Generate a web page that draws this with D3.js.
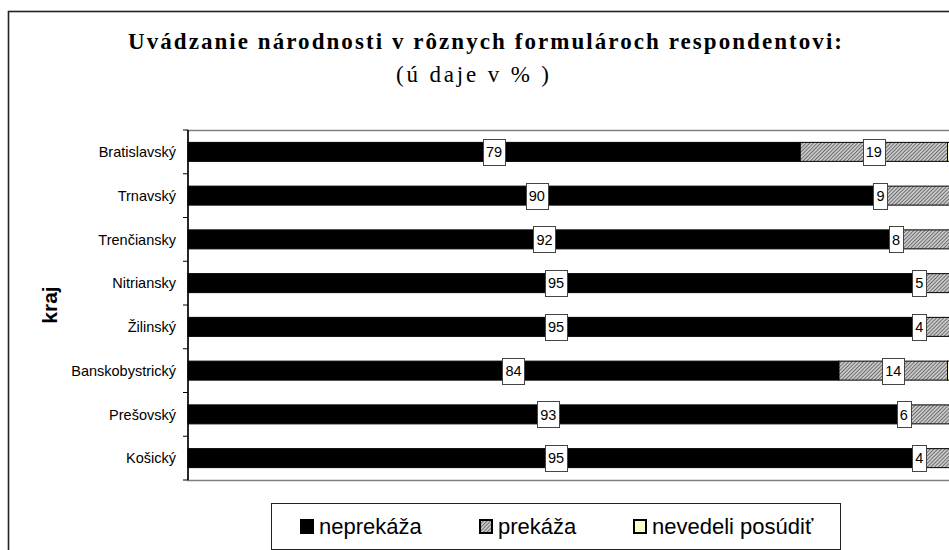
<!DOCTYPE html>
<html>
<head>
<meta charset="utf-8">
<script src="https://cdn.jsdelivr.net/npm/d3@7/dist/d3.min.js"></script>
<style>
  html, body { margin: 0; padding: 0; background: #fff; }
  svg { display: block; }
</style>
</head>
<body>
<svg id="chart" width="949" height="550"></svg>
<script>
// Regions (kraje) and the three answer groups, in percent
const categories = ["Bratislavský", "Trnavský", "Trenčiansky", "Nitriansky", "Žilinský", "Banskobystrický", "Prešovský", "Košický"];
const neprekaza = [79, 90, 92, 95, 95, 84, 93, 95];
const prekaza = [19, 9, 8, 5, 4, 14, 6, 4];
const nevedeli = [2, 1, 0, 0, 1, 2, 1, 1];
const seriesNames = ["neprekáža", "prekáža", "nevedeli posúdiť"];
const labelledSeries = ["neprekáža", "prekáža"];

const titleText = "Uvádzanie národnosti v rôznych formulároch respondentovi:";
const subtitleText = "(ú daje v % )";
const axisTitle = "kraj";

const rows = categories.map((c, i) => ({
  kraj: c,
  "neprekáža": neprekaza[i],
  "prekáža": prekaza[i],
  "nevedeli posúdiť": nevedeli[i]
}));

const svg = d3.select("#chart");
const sans = "'Liberation Sans', Arial, sans-serif";
const serif = "'Liberation Serif', 'Times New Roman', serif";

// fine hatch pattern for the "prekáža" series
const defs = svg.append("defs");
const pat = defs.append("pattern")
  .attr("id", "hatch")
  .attr("patternUnits", "userSpaceOnUse")
  .attr("width", 2.6).attr("height", 2.6)
  .attr("patternTransform", "rotate(45)");
pat.append("rect").attr("width", 2.6).attr("height", 2.6).attr("fill", "#c8c8c8");
pat.append("line").attr("x1", 0).attr("y1", 0).attr("x2", 0).attr("y2", 2.6)
  .attr("stroke", "#303030").attr("stroke-width", 1.1);

const fills = {
  "neprekáža": "#000000",
  "prekáža": "url(#hatch)",
  "nevedeli posúdiť": "#ffffcc"
};

// outer chart frame
svg.append("rect")
  .attr("x", 8.5).attr("y", 11.5)
  .attr("width", 980).attr("height", 580)
  .attr("fill", "none").attr("stroke", "#222").attr("stroke-width", 1.6);

// title
svg.append("text")
  .attr("x", 128).attr("y", 49)
  .attr("textLength", 714).attr("lengthAdjust", "spacing")
  .style("font-family", serif).style("font-weight", "bold").style("font-size", "23px")
  .attr("fill", "#000")
  .text(titleText);
svg.append("text")
  .attr("x", 396).attr("y", 82)
  .attr("textLength", 153).attr("lengthAdjust", "spacing")
  .style("font-family", serif).style("font-size", "23px")
  .attr("fill", "#000")
  .text(subtitleText);

// scales
const plotTop = 130, plotBottom = 480, plotLeft = 188, plotRight = 963;
const x = d3.scaleLinear().domain([0, 100]).range([plotLeft, plotRight]);
const p = 0.566;
const y = d3.scaleBand().domain(categories).range([plotTop, plotBottom])
  .paddingInner(p).paddingOuter(p / 2);

// plot area frame
svg.append("rect")
  .attr("x", plotLeft).attr("y", plotTop + 0.5)
  .attr("width", plotRight - plotLeft).attr("height", plotBottom - plotTop)
  .attr("fill", "#fff").attr("stroke", "#808080").attr("stroke-width", 1.5);

// stacked bars
const stack = d3.stack().keys(seriesNames);
const layers = stack(rows);

const g = svg.append("g");
layers.forEach(layer => {
  g.append("g").selectAll("rect")
    .data(layer)
    .join("rect")
    .attr("x", d => x(d[0]))
    .attr("y", d => y(d.data.kraj))
    .attr("width", d => x(d[1]) - x(d[0]))
    .attr("height", y.bandwidth())
    .attr("fill", fills[layer.key])
    .attr("stroke", d => (d[1] - d[0]) > 0 ? "#000" : "none")
    .attr("stroke-width", 1);
});

// left axis with ticks at category boundaries
const step = y.step();
const boundaries = categories.map(c => y(c) - step * p / 2).concat([plotBottom]);
const axisG = svg.append("g");
axisG.append("line")
  .attr("x1", plotLeft).attr("x2", plotLeft)
  .attr("y1", plotTop).attr("y2", plotBottom)
  .attr("stroke", "#000").attr("stroke-width", 1.5);
axisG.selectAll("line.tick")
  .data(boundaries)
  .join("line")
  .attr("class", "tick")
  .attr("x1", plotLeft - 5).attr("x2", plotLeft)
  .attr("y1", d => d).attr("y2", d => d)
  .attr("stroke", "#000").attr("stroke-width", 1);

// category labels
svg.append("g").selectAll("text")
  .data(categories)
  .join("text")
  .attr("x", 176)
  .attr("y", d => y(d) + y.bandwidth() / 2)
  .attr("dy", "0.36em")
  .attr("text-anchor", "end")
  .style("font-family", sans).style("font-size", "14.5px")
  .attr("fill", "#000")
  .text(d => d);

// axis title
svg.append("text")
  .attr("transform", `translate(57, ${(plotTop + plotBottom) / 2}) rotate(-90)`)
  .attr("text-anchor", "middle")
  .style("font-family", sans).style("font-weight", "bold").style("font-size", "21px")
  .attr("fill", "#000")
  .text(axisTitle);

// value labels in boxed tags; narrow segments get their tag just before the segment start
const labelG = svg.append("g");
layers.filter(l => labelledSeries.includes(l.key)).forEach(layer => {
  layer.forEach(d => {
    const v = d.data[layer.key];
    const narrow = (d[1] - d[0]) < 10;
    const cy = y(d.data.kraj) + y.bandwidth() / 2;
    const t = labelG.append("text")
      .attr("x", narrow ? x(d[0]) - 1 : x((d[0] + d[1]) / 2))
      .attr("y", cy)
      .attr("dy", "0.37em")
      .attr("text-anchor", narrow ? "end" : "middle")
      .style("font-family", sans).style("font-size", "14.5px")
      .attr("fill", "#000")
      .text(v);
    const bb = t.node().getBBox();
    labelG.insert("rect", () => t.node())
      .attr("x", Math.round(bb.x - 3) + 0.5)
      .attr("y", Math.round(cy - 13) + 0.5)
      .attr("width", Math.round(bb.width + 6))
      .attr("height", 26)
      .attr("fill", "#fff").attr("stroke", "#444").attr("stroke-width", 1);
  });
});

// legend
const lg = svg.append("g");
lg.append("rect")
  .attr("x", 271.5).attr("y", 503.5).attr("width", 569).attr("height", 46)
  .attr("fill", "#fff").attr("stroke", "#222").attr("stroke-width", 1);
const legendX = [300, 479, 633];
seriesNames.forEach((name, i) => {
  lg.append("rect")
    .attr("x", legendX[i] + 1).attr("y", 520)
    .attr("width", 12).attr("height", 13)
    .attr("fill", fills[name]).attr("stroke", "#000").attr("stroke-width", 2);
  lg.append("text")
    .attr("x", legendX[i] + 19).attr("y", 534)
    .style("font-family", sans).style("font-size", "22px")
    .attr("fill", "#000")
    .text(name);
});
</script>
</body>
</html>
